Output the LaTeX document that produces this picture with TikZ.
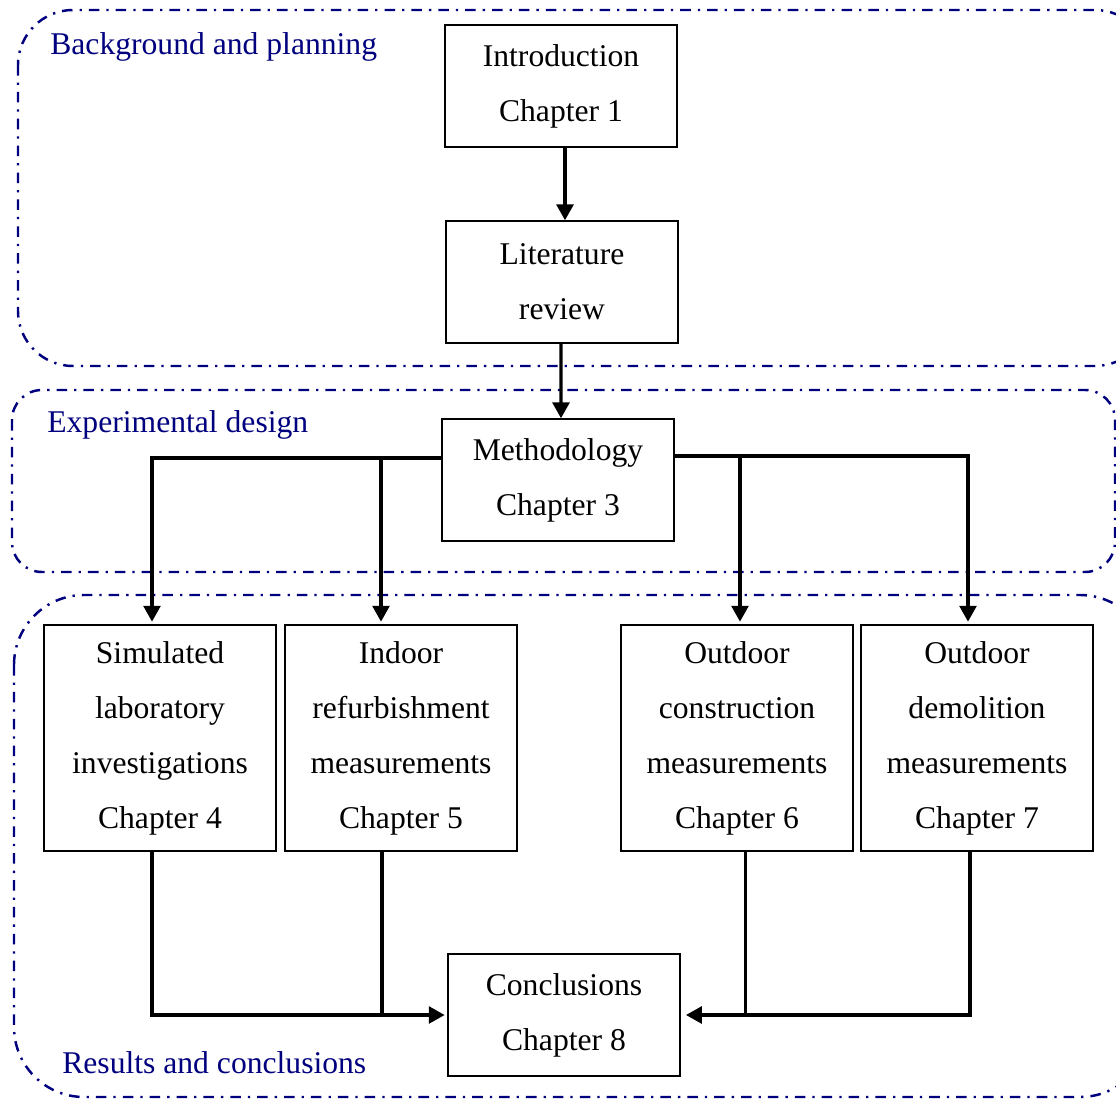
\documentclass[tikz,border=0pt]{standalone}
\usepackage{fontspec}
\setmainfont{Liberation Serif}
\usetikzlibrary{arrows.meta,positioning}
\definecolor{navyline}{HTML}{00007F}

\begin{document}
\begin{tikzpicture}[
   x=0.02cm, y=-0.02cm,
   font=\fontsize{18}{31.3}\selectfont,
   box/.style={draw=black, line width=0.8pt, fill=white, align=center,
               inner sep=2pt, minimum width=4.64cm, minimum height=2.44cm},
   tallbox/.style={box, minimum height=4.52cm},
   fwd/.style={-{Triangle[length=9pt,width=9.5pt]}, line width=1.9pt, color=black},
   link/.style={line width=1.9pt, color=black},
   phase/.style={draw=navyline, line width=1.4pt,
                 dash pattern=on 6pt off 4pt on 1.3pt off 4pt},
   phasetext/.style={anchor=west, color=navyline, inner sep=0pt},
]
  \useasboundingbox (0,0) rectangle (1116,1101);
  \draw[phase, rounded corners=1.1cm] (18,10) rectangle (1150,366);
  \draw[phase, rounded corners=0.6cm] (12,390) rectangle (1115,572);
  \draw[phase, rounded corners=1.4cm] (14,595) rectangle (1150,1097);

  \node[phasetext] (bgtext)  at (50,47)   {Background and planning};
  \node[phasetext] (exptext) at (47,425)  {Experimental design};
  \node[phasetext] (restext) at (62,1063) {Results and conclusions};

  \node[box] (intro) at (561,86)  {Introduction\\ Chapter 1};
  \node[box] (lit)   at (562,282) {Literature\\ review};
  \node[box] (meth)  at (558,480) {Methodology\\ Chapter 3};
  \node[tallbox] (sim)  at (160,738) {Simulated\\ laboratory\\ investigations\\ Chapter 4};
  \node[tallbox] (ind)  at (401,738) {Indoor\\ refurbishment\\ measurements\\ Chapter 5};
  \node[tallbox] (con)  at (737,738) {Outdoor\\ construction\\ measurements\\ Chapter 6};
  \node[tallbox] (dem)  at (977,738) {Outdoor\\ demolition\\ measurements\\ Chapter 7};
  \node[box] (concl) at (564,1015) {Conclusions\\ Chapter 8};

  \draw[fwd] ([xshift=0.08cm]intro.south) -- ([xshift=0.06cm]lit.north);
  \draw[fwd] ([xshift=-0.02cm]lit.south) -- ([xshift=0.06cm]meth.north);

  \coordinate (mleft)  at ([yshift=0.44cm]meth.west);
  \coordinate (mright) at ([yshift=0.48cm]meth.east);
  \draw[fwd, shorten >=1.5pt] (mleft) -| ([xshift=-0.16cm]sim.north);
  \draw[fwd, shorten >=1.5pt] ([xshift=-0.4cm]ind.north |- mleft) -- ([xshift=-0.4cm]ind.north);
  \draw[fwd, shorten >=1.5pt] (mright) -| ([xshift=-0.18cm]dem.north);
  \draw[fwd, shorten >=1.5pt] ([xshift=0.06cm]con.north |- mright) -- ([xshift=0.06cm]con.north);

  \draw[fwd, shorten >=1.5pt] ([xshift=-0.16cm]sim.south) |- (concl.west);
  \draw[link] ([xshift=-0.38cm]ind.south) -- ([xshift=-0.38cm]ind.south |- concl.west);
  \draw[fwd, shorten >=3pt] ([xshift=-0.14cm]dem.south) |- (concl.east);
  \draw[link] ([xshift=0.17cm]con.south) -- ([xshift=0.17cm]con.south |- concl.east);
\end{tikzpicture}
\end{document}
